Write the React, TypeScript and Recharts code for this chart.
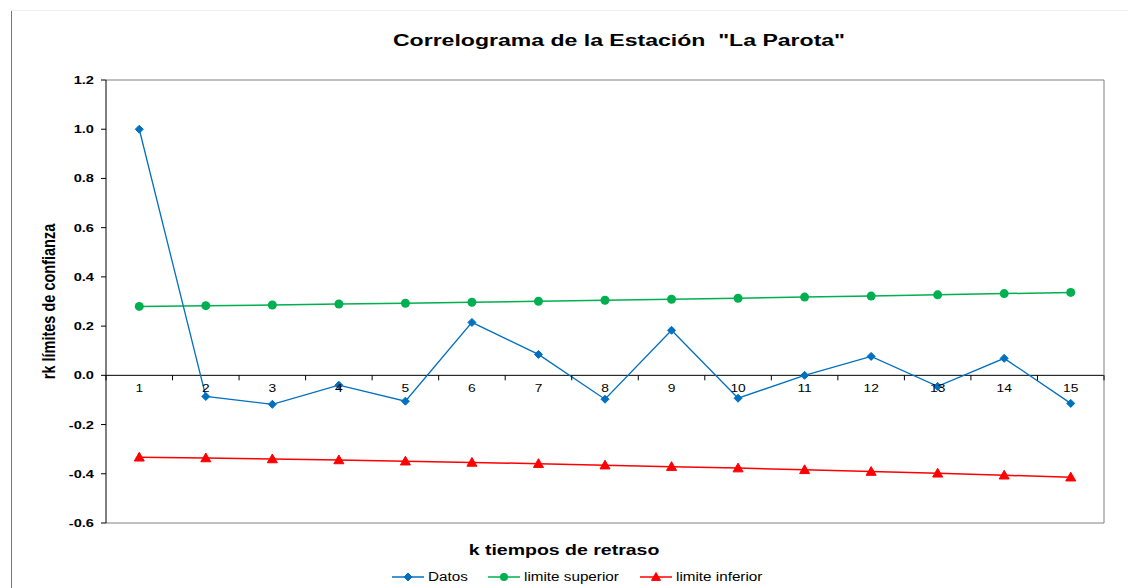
import {
  LineChart, Line, XAxis, YAxis, ReferenceLine,
} from "recharts";

const lags = ["1", "2", "3", "4", "5", "6", "7", "8", "9", "10", "11", "12", "13", "14", "15"];
const datos = [1.0, -0.086, -0.118, -0.04, -0.105, 0.215, 0.085, -0.097, 0.183, -0.093, 0.0, 0.077, -0.045, 0.069, -0.114];
const limiteSuperior = [0.28, 0.283, 0.286, 0.29, 0.293, 0.297, 0.301, 0.305, 0.309, 0.313, 0.318, 0.322, 0.327, 0.332, 0.337];
const limiteInferior = [-0.333, -0.336, -0.34, -0.344, -0.349, -0.354, -0.359, -0.365, -0.371, -0.377, -0.384, -0.391, -0.398, -0.406, -0.414];
const yTicks = [-0.6, -0.4, -0.2, 0, 0.2, 0.4, 0.6, 0.8, 1.0, 1.2];

const data = lags.map((k, i) => ({
  k, datos: datos[i], sup: limiteSuperior[i], inf: limiteInferior[i],
}));

const W = 1128, H = 588;
const M = { top: 80, right: 23, left: 46, bottom: 45 };
const Y_AXIS_W = 60, X_AXIS_H = 20, R_AXIS_W = 1;
const Y_MIN = -0.6, Y_MAX = 1.2;
const PLOT_W = W - M.left - M.right - Y_AXIS_W - R_AXIS_W;
const PLOT_H = H - M.top - M.bottom - X_AXIS_H;
const ZERO_Y = M.top + PLOT_H * (Y_MAX - 0) / (Y_MAX - Y_MIN);
const BAND = PLOT_W / lags.length;

const BLUE = "#0070C0", GREEN = "#00B050", RED = "#FF0000";
const FONT = "'Liberation Sans', Arial, sans-serif";
const STRETCH = 1.33; // the original picture is stretched sideways

const Diamond = ({ cx, cy, r = 4, color = BLUE }: any) => (
  <path d={`M${cx},${cy - r}L${cx + r},${cy}L${cx},${cy + r}L${cx - r},${cy}Z`} fill={color} stroke={color} />
);
const Triangle = ({ cx, cy, r = 5, color = RED }: any) => (
  <path d={`M${cx},${cy - r}L${cx + r},${cy + r * 0.75}L${cx - r},${cy + r * 0.75}Z`} fill={color} stroke={color} />
);

const XTick = (props: any) => {
  const { x, payload, index } = props;
  return (
    <g>
      <line x1={x - BAND / 2} x2={x - BAND / 2} y1={ZERO_Y} y2={ZERO_Y + 5} stroke="#000" />
      {index === lags.length - 1 && (
        <line x1={x + BAND / 2} x2={x + BAND / 2} y1={ZERO_Y} y2={ZERO_Y + 5} stroke="#000" />
      )}
      <text transform={`translate(${x},${ZERO_Y + 17}) scale(1.25,1)`} textAnchor="middle" fontSize={11} fontFamily={FONT} fill="#000">
        {payload.value}
      </text>
    </g>
  );
};

const YTick = (props: any) => {
  const { x, y, payload } = props;
  return (
    <text transform={`translate(${x - 5},${y + 4}) scale(${STRETCH},1)`} textAnchor="end" fontSize={11} fontWeight="bold" fontFamily={FONT} fill="#000">
      {payload.value.toFixed(1)}
    </text>
  );
};

const YLabel = (props: any) => {
  const { viewBox } = props;
  const cx = viewBox.x + 2, cy = viewBox.y + viewBox.height / 2;
  return (
    <text transform={`translate(${cx},${cy}) scale(${STRETCH},1) rotate(-90)`} textAnchor="middle" dy={5} fontSize={14.5} fontWeight="bold" fontFamily={FONT} fill="#000">
      rk límites de confianza
    </text>
  );
};

const legendItems = [
  { name: "Datos", color: BLUE, shape: "diamond", left: 392 },
  { name: "limite superior", color: GREEN, shape: "circle", left: 488 },
  { name: "limite inferior", color: RED, shape: "triangle", left: 640 },
];

export default function App() {
  return (
    <div style={{ position: "absolute", left: 0, top: 0, width: W, height: H, background: "#fff", fontFamily: FONT, overflow: "hidden" }}>
      <div style={{ position: "absolute", left: 11, top: 10, width: 1, height: H - 10, background: "#777" }} />
      <div style={{ position: "absolute", left: 11, top: 10, width: W, height: 1, background: "#f0f0f0" }} />
      <div style={{ position: "absolute", left: 619, top: 32, transform: "translateX(-50%) scaleX(1.44)", fontSize: 16, fontWeight: "bold", whiteSpace: "pre" }}>
        {'Correlograma de la Estación  "La Parota"'}
      </div>
      <LineChart width={W} height={H} data={data} margin={M}>
        <XAxis dataKey="k" height={X_AXIS_H} tick={<XTick />} tickLine={false} axisLine={{ stroke: "#808080" }}
          interval={0} padding={{ left: BAND / 2, right: BAND / 2 }} />
        <YAxis
          width={Y_AXIS_W} domain={[Y_MIN, Y_MAX]} ticks={yTicks} interval={0}
          tick={<YTick />} tickLine={{ stroke: "#000" }} tickSize={5} axisLine={{ stroke: "#000" }}
          label={<YLabel />}
        />
        <YAxis yAxisId="r" orientation="right" width={R_AXIS_W} domain={[Y_MIN, Y_MAX]} tick={false} tickLine={false} axisLine={{ stroke: "#808080" }} />
        <ReferenceLine y={Y_MAX} stroke="#808080" />
        <ReferenceLine y={0} stroke="#000" />
        <Line dataKey="sup" name="limite superior" stroke={GREEN} strokeWidth={1.5} isAnimationActive={false}
          dot={(p: any) => <circle key={`s${p.index}`} cx={p.cx} cy={p.cy} r={4.5} fill={GREEN} />} activeDot={false} />
        <Line dataKey="inf" name="limite inferior" stroke={RED} strokeWidth={1.5} isAnimationActive={false}
          dot={(p: any) => <Triangle key={`i${p.index}`} cx={p.cx} cy={p.cy} />} activeDot={false} />
        <Line dataKey="datos" name="Datos" stroke={BLUE} strokeWidth={1.3} isAnimationActive={false}
          dot={(p: any) => <Diamond key={`d${p.index}`} cx={p.cx} cy={p.cy} />} activeDot={false} />
      </LineChart>
      <div style={{ position: "absolute", left: 564, top: 541, transform: "translateX(-50%) scaleX(1.3)", fontSize: 15, fontWeight: "bold", whiteSpace: "pre" }}>
        k tiempos de retraso
      </div>
      {legendItems.map(it => (
        <div key={it.name} style={{ position: "absolute", left: it.left, top: 570, display: "flex", alignItems: "center", fontSize: 12 }}>
          <svg width={32} height={12}>
            <line x1={0} x2={32} y1={6} y2={6} stroke={it.color} strokeWidth={1.5} />
            {it.shape === "diamond" && <Diamond cx={16} cy={6} r={4} color={it.color} />}
            {it.shape === "circle" && <circle cx={16} cy={6} r={4} fill={it.color} />}
            {it.shape === "triangle" && <Triangle cx={16} cy={6} r={4.5} color={it.color} />}
          </svg>
          <span style={{ display: "inline-block", marginLeft: 4, transform: "scaleX(1.27)", transformOrigin: "left center", whiteSpace: "pre" }}>{it.name}</span>
        </div>
      ))}
    </div>
  );
}
